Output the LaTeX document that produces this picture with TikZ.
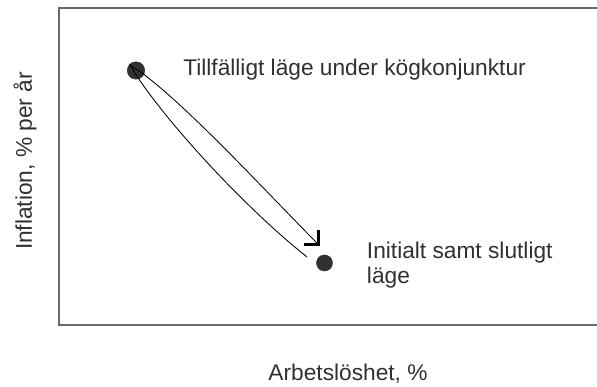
\documentclass[tikz,border=0pt]{standalone}
\usepackage{fontspec}
\setmainfont{Liberation Sans}
\usetikzlibrary{arrows.meta,calc}

\definecolor{ink}{HTML}{303030}
\definecolor{framegray}{HTML}{6A6A6A}

\begin{document}
\begin{tikzpicture}[x=0.025cm, y=0.025cm, inner sep=0pt,
  font=\fontsize{16.15}{17.6}\selectfont, text=ink]

\useasboundingbox (0,0) rectangle (597,387);

% the two states
\coordinate (H) at (136,316.5);
\coordinate (N) at (324.5,124);

% ends of the loop
\coordinate (T) at ($(H) + (-6,5.5)$);
\coordinate (L) at ($(N) + (-17.5,6)$);
\coordinate (A) at ($(N) + (-4.5,17)$);

% frame, open on the right
\draw[framegray, line width=1pt] (597,379) -- (59,379) -- (59,62) -- (597,62);

\filldraw[ink] (H) circle (8.7);
\filldraw[ink] (N) circle (8);

\draw[black, line width=0.6pt, -{Straight Barb[angle=90:10.5pt, line width=2.4pt, sharp]}]
  (L) .. controls (238,185) and (156,277) .. (T)
      .. controls (175,295) and (268,193) .. (A);

\node[anchor=base west] (highlabel) at (183,311) {Tillfälligt läge under kögkonjunktur};
\node[anchor=base west, align=left] (initlabel) at (366.7,103.5) {Initialt samt slutligt\\läge};

\node[anchor=base] (xlabel) at (348,7) {Arbetslöshet, \%};
\node[anchor=base, rotate=90] (ylabel) at (32,226) {Inflation, \% per år};

\end{tikzpicture}
\end{document}
